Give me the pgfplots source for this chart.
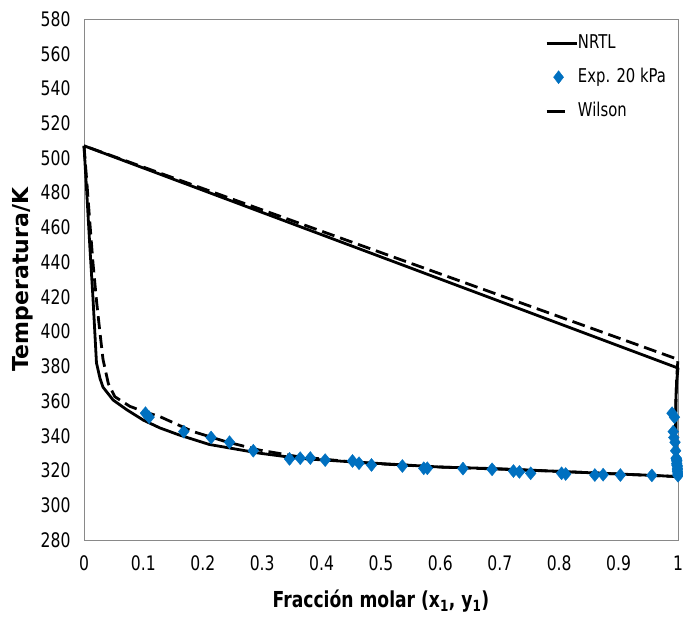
\documentclass[border=0pt]{standalone}
\usepackage{fontspec}
\setmainfont{DejaVu Sans}[FakeStretch=0.78]
\newfontfamily\ylabfont{DejaVu Sans}
\usepackage{pgfplots}
\pgfplotsset{compat=1.18}
\definecolor{expblue}{HTML}{0070C0}
\definecolor{framegray}{HTML}{898989}
\begin{document}
\begin{tikzpicture}
\begin{axis}[name=ax,
  width=594pt, height=521pt, scale only axis,
  xmin=0, xmax=1, ymin=280, ymax=580,
  xtick={0,0.1,0.2,0.3,0.4,0.5,0.6,0.7,0.8,0.9,1},
  xticklabels={0,0.1,0.2,0.3,0.4,0.5,0.6,0.7,0.8,0.9,1},
  ytick={280,300,...,580},
  yticklabels={280,300,320,340,360,380,400,420,440,460,480,500,520,540,560,580},
  major tick length=0pt,
  axis line style={framegray, line width=0.8pt},
  tick label style={font=\fontsize{20}{24}\selectfont},
  xticklabel style={yshift=-12pt},
  yticklabel style={xshift=-10pt},
  xlabel={\bfseries Fracción molar (x\textsubscript{1}, y\textsubscript{1})},
  xlabel style={font=\fontsize{22}{26}\selectfont, at={(axis description cs:0.5,-0.117)}, anchor=center},
  ylabel={\ylabfont\bfseries Temperatura/K},
  ylabel style={font=\fontsize{22}{26}\selectfont, at={(axis description cs:-0.1031,0.5)}, anchor=center},
  clip=false,
  legend style={draw=none, fill=none, at={(axis description cs:0.771,0.975)}, anchor=north west,
    font=\fontsize{19}{22}\selectfont, row sep=16pt,
    nodes={inner sep=0pt, text height=14pt, text depth=4pt}},
  legend cell align=left,
  /tikz/every even column/.append style={column sep=3pt},
]
% legend
\addlegendimage{legend image code/.code={\draw[black,line width=2.8pt] (0pt,0pt)--(30pt,0pt);}}
\addlegendentry{NRTL}
\addlegendimage{legend image code/.code={\fill[expblue] (12pt,6.5pt)--(17pt,0pt)--(12pt,-6.5pt)--(7pt,0pt)--cycle;}}
\addlegendentry{Exp. 20 kPa}
\addlegendimage{legend image code/.code={\draw[black,line width=2.8pt] (0pt,0pt)--(18pt,0pt);}}
\addlegendentry{Wilson}
% NRTL
\addplot[black, line width=2.8pt, line join=round, forget plot] coordinates {
(0,507) (0.005,478) (0.01,448) (0.015,420) (0.021,382) (0.027,373) (0.032,368)
(0.049,360.6) (0.072,355) (0.1,349) (0.128,344.5) (0.16,340.5) (0.211,335)
(0.295,330) (0.362,327) (0.45,325) (0.5,324) (0.6,322) (0.7,321) (0.8,319.5)
(0.9,318) (0.97,317) (1,316.5)
(0.998,322) (0.997,330) (0.996,340) (0.996,352) (0.9965,362) (0.998,372) (1,379)
(0.5,443) (0,507)
};
% Wilson
\addplot[black, line width=2.8pt, dash pattern=on 13pt off 6pt, line join=round, forget plot] coordinates {
(0,507) (0.005,485) (0.01,462) (0.015,440) (0.021,418) (0.027,399) (0.032,384)
(0.041,370) (0.052,362.5) (0.077,357) (0.1,354) (0.128,351) (0.183,342.5)
(0.239,336.6) (0.295,331.8) (0.36,328) (0.45,325) (0.5,323.8) (0.6,322)
(0.7,320.8) (0.8,319.5) (0.9,318) (1,316.5)
(0.998,322) (0.997,330) (0.9965,342) (0.9965,355) (0.997,365) (0.998,375) (1,384)
(0.5,445.5) (0,507)
};
% experimental
\addplot[only marks, mark=diamond*, mark size=6.5pt, mark options={xscale=1.1}, color=expblue, forget plot] coordinates {
(0.1035,353) (0.1096,350.7) (0.168,342.4) (0.214,339) (0.245,336.3) (0.285,331.4)
(0.346,326.7) (0.364,327.1) (0.381,327.2) (0.406,326) (0.452,325.5) (0.463,324.2)
(0.484,323.2) (0.536,322.6) (0.572,321.3) (0.578,321.3) (0.638,321.1) (0.687,320.7)
(0.723,319.7) (0.733,319.2) (0.752,318.4) (0.804,318.4) (0.811,318) (0.86,317.4)
(0.874,317.6) (0.903,317.4) (0.956,317.2)
(0.990,353) (0.994,350.7) (0.992,342.4) (0.993,339) (0.995,336.3) (0.996,331.4)
(0.997,326.8) (0.997,327.2) (0.998,326) (0.998,325.5) (0.998,324.2) (0.998,323.2)
(0.999,322.6) (0.999,321.3) (0.999,320.5) (0.999,319.5) (1.0,318.5) (1,317.5) (1,317)
};
\end{axis}
\pgfresetboundingbox
\path ([xshift=-84pt,yshift=-80pt]ax.south west) rectangle ([xshift=5pt,yshift=19pt]ax.north east);
\end{tikzpicture}
\end{document}
